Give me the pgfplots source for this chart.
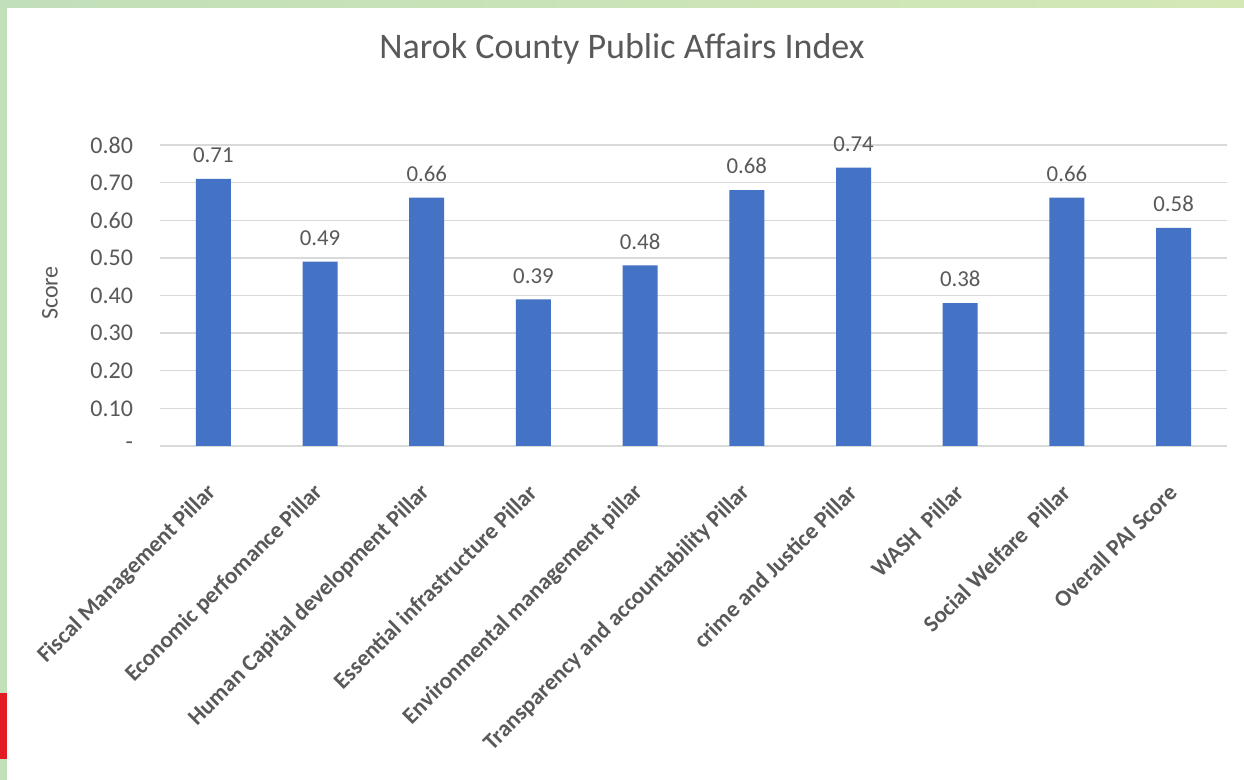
\documentclass[border=0pt]{standalone}
\usepackage{fontspec}
\setmainfont{Carlito}
\usepackage{pgfplots}
\pgfplotsset{compat=1.18}
\definecolor{barblue}{HTML}{4472C4}
\definecolor{txt}{HTML}{595959}
\definecolor{gridc}{HTML}{D9D9D9}
\definecolor{gl}{RGB}{193,223,185}
\definecolor{gr}{RGB}{212,232,182}
\definecolor{redmark}{HTML}{E31B23}
\begin{document}
\begin{tikzpicture}
\path[use as bounding box, fill=white] (0,0) rectangle (622pt,390pt);
\shade[left color=gl, right color=gr] (0,386.3pt) rectangle (622pt,390pt);
\fill[gl] (0,0) rectangle (3.6pt,390pt);
\fill[redmark] (0,10.5pt) rectangle (3.6pt,43.5pt);
\node[anchor=base, text=txt, font=\fontsize{18}{22}\selectfont] at (311pt,360.5pt) {Narok County Public Affairs Index};
\node[rotate=90, text=txt, font=\fontsize{12}{14}\selectfont] at (25pt,243.5pt) {Score};
\begin{axis}[
  at={(80pt,167pt)}, anchor=south west,
  scale only axis, width=533.5pt, height=150.5pt,
  xmin=-0.5, xmax=9.5, ymin=0, ymax=0.8,
  ybar, bar width=17.5pt,
  axis line style={draw=none},
  major tick length=0pt,
  ymajorgrids, major grid style={gridc, line width=0.75pt},
  ytick={0,0.1,0.2,0.3,0.4,0.5,0.6,0.7,0.8},
  yticklabels={-,0.10,0.20,0.30,0.40,0.50,0.60,0.70,0.80},
  yticklabel style={text=txt, font=\fontsize{12}{14}\selectfont, xshift=-10pt},
  xtick={0,...,9},
  xticklabels={Fiscal Management Pillar, Economic perfomance Pillar, Human Capital development Pillar, Essential infrastructure Pillar, Environmental management pillar, Transparency and accountability Pillar, crime and Justice Pillar, WASH\ \ Pillar, Social Welfare\ \ Pillar, Overall PAI Score},
  xticklabel style={xshift=2pt, yshift=-19pt, rotate=45, anchor=east, text=txt, font=\bfseries\fontsize{11.6}{14}\selectfont},
  point meta=explicit symbolic,
  nodes near coords,
  every node near coord/.append style={text=txt, font=\fontsize{11.4}{13}\selectfont, yshift=4.5pt},
]
\addplot[fill=barblue, draw=none] coordinates {
 (0,0.71) [0.71]
 (1,0.49) [0.49]
 (2,0.66) [0.66]
 (3,0.39) [0.39]
 (4,0.48) [0.48]
 (5,0.68) [0.68]
 (6,0.74) [0.74]
 (7,0.38) [0.38]
 (8,0.66) [0.66]
 (9,0.58) [0.58]
};
\end{axis}
\end{tikzpicture}
\end{document}
